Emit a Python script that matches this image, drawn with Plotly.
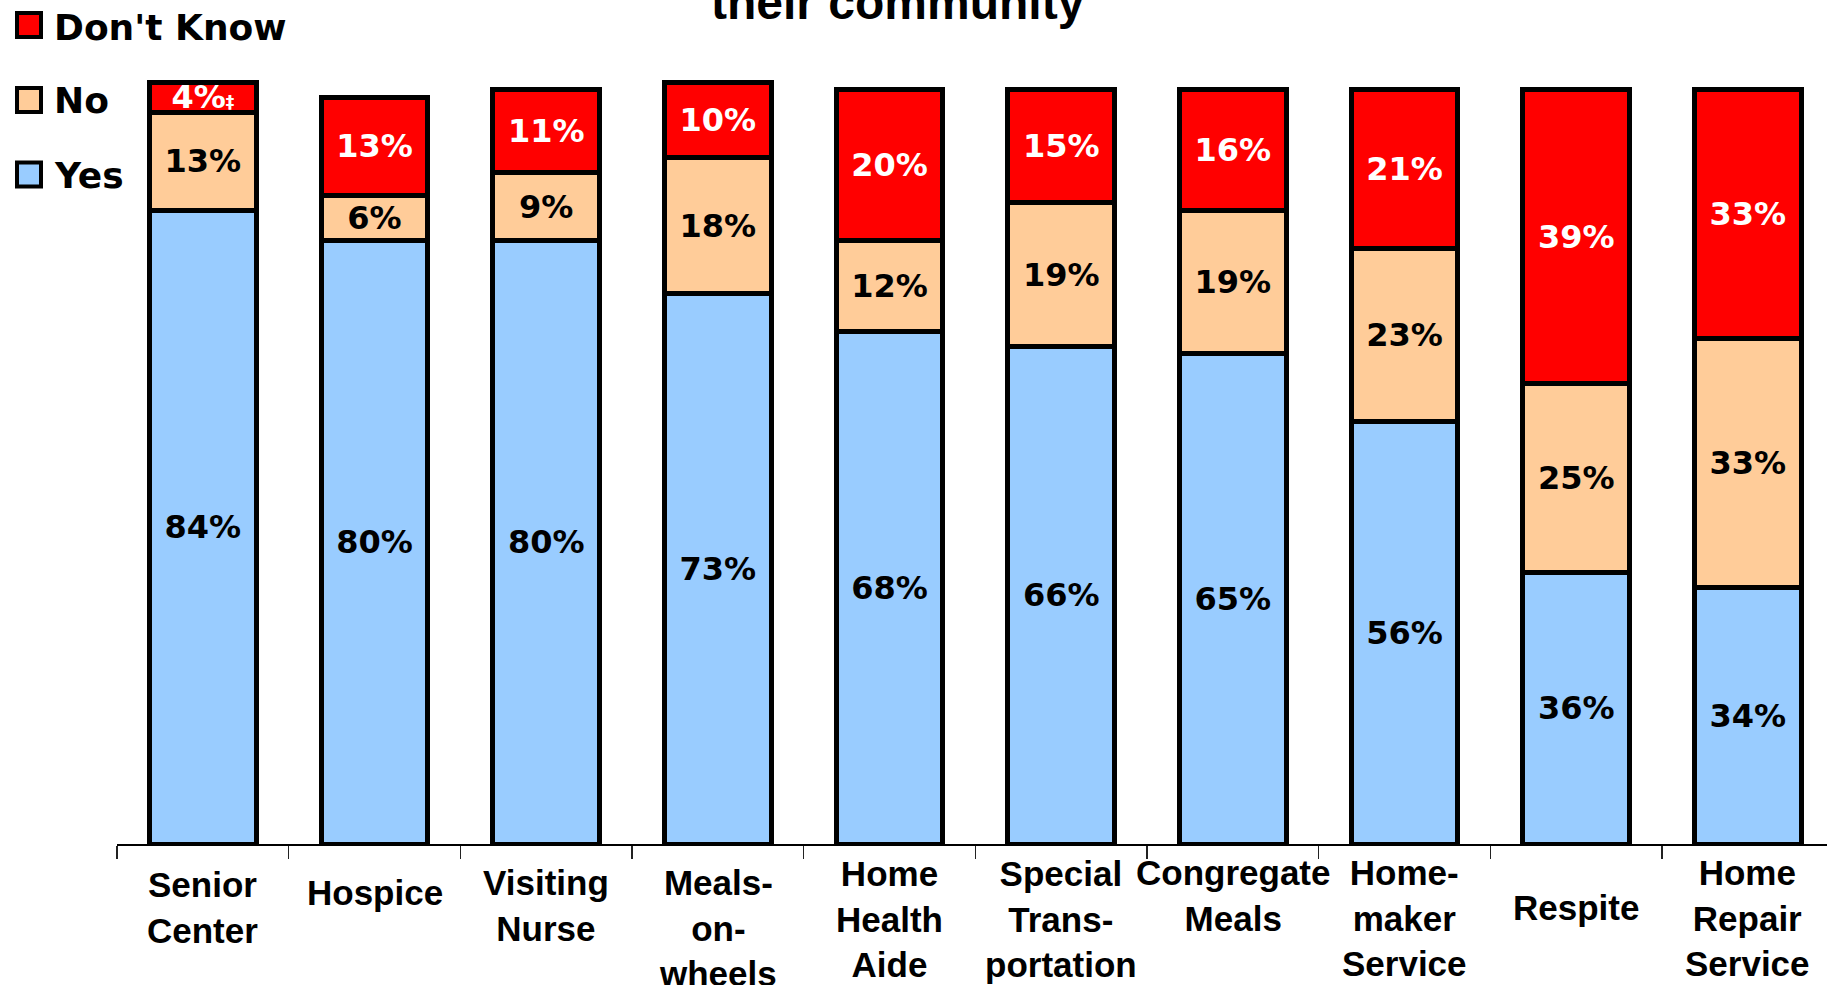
import plotly.graph_objects as go

# ---------------- data ----------------
categories = ["Senior<br>Center", "Hospice", "Visiting<br>Nurse", "Meals-<br>on-<br>wheels",
              "Home<br>Health<br>Aide", "Special<br>Trans-<br>portation", "Congregate<br>Meals",
              "Home-<br>maker<br>Service", "Respite", "Home<br>Repair<br>Service"]
yes_vals = [84, 80, 80, 73, 68, 66, 65, 56, 36, 34]
no_vals = [13, 6, 9, 18, 12, 19, 19, 23, 25, 33]
dk_vals = [4, 13, 11, 10, 20, 15, 16, 21, 39, 33]
dk_notes = ["‡", "", "", "", "", "", "", "", "", ""]
series_names = ["Yes", "No", "Don't Know"]
title_text = "their community"

# ---------------- style ----------------
W, H = 1827, 985
L, R, T, B = 117, 0, 0, 141
PW, PH = W - L - R, H - T - B
colors = {"Yes": "#99CCFF", "No": "#FFCC99", "Don't Know": "#FF0000"}
text_colors = {"Yes": "black", "No": "black", "Don't Know": "white"}
label_center_px = [908, 892.5, 905, 928, 919, 918.5, 895, 918, 907.5, 918]


def px_x(p):
    return (p - L) / PW


def px_y(p):
    return (H - B - p) / PH


def fmt(v, note=""):
    s = f"{v}%"
    if note:
        s += f"<span style='font-size:17px'>{note}</span>"
    return s


texts = {
    "Yes": [fmt(v) for v in yes_vals],
    "No": [fmt(v) for v in no_vals],
    "Don't Know": [fmt(v, n) for v, n in zip(dk_vals, dk_notes)],
}
values = {"Yes": yes_vals, "No": no_vals, "Don't Know": dk_vals}

fig = go.Figure()
for name in series_names:
    fig.add_trace(go.Bar(
        x=categories, y=values[name], name=name,
        marker=dict(color=colors[name], line=dict(color="black", width=5)),
        text=texts[name], textposition="inside", insidetextanchor="middle",
        textangle=0, constraintext="none",
        insidetextfont=dict(family="DejaVu Sans", size=32, color=text_colors[name], weight="bold"),
        width=0.62, showlegend=False, hoverinfo="skip",
    ))

annotations = []
# category labels
for cat, cy in zip(categories, label_center_px):
    annotations.append(dict(
        x=cat, xref="x", y=px_y(cy), yref="paper", text=cat, showarrow=False,
        xanchor="center", yanchor="middle", align="center",
        font=dict(family="Liberation Sans, Arial", size=35, color="black", weight="bold"),
    ))

# manual legend (top to bottom)
shapes = []
legend_rows = [("Don't Know", 25, 27.5), ("No", 100, 100), ("Yes", 174.5, 175.5)]
for name, sq_y, tx_y in legend_rows:
    shapes.append(dict(
        type="rect", xref="paper", yref="paper",
        x0=px_x(17), x1=px_x(41), y0=px_y(sq_y + 12), y1=px_y(sq_y - 12),
        fillcolor=colors[name], line=dict(color="black", width=4), layer="above",
    ))
    annotations.append(dict(
        x=px_x(52), xref="paper", y=px_y(tx_y), yref="paper", text=name, showarrow=False,
        xanchor="left", yanchor="middle",
        font=dict(family="DejaVu Sans", size=36, color="black", weight="bold"),
    ))

# title (only its last line is visible at the top edge)
annotations.append(dict(
    x=px_x(898), xref="paper", y=px_y(19 - 0.347 * 48), yref="paper", text=title_text,
    showarrow=False, xanchor="center", yanchor="middle",
    font=dict(family="Liberation Sans, Arial", size=48, color="black", weight="bold"),
))

fig.update_layout(
    width=W, height=H, barmode="stack",
    margin=dict(l=L, r=R, t=T, b=B, pad=0),
    paper_bgcolor="white", plot_bgcolor="white",
    xaxis=dict(type="category", range=[-0.5, 9.461], autorange=False,
               showline=True, linecolor="black", linewidth=2,
               ticks="outside", ticklen=13, tickwidth=1.5, tickcolor="#222",
               tickson="boundaries", showticklabels=False, showgrid=False, zeroline=False),
    yaxis=dict(range=[0, 111.9], autorange=False, visible=False),
    annotations=annotations, shapes=shapes,
)

fig.write_html("out.html", config={"displayModeBar": False, "staticPlot": True},
               post_script="document.body.style.margin='0';document.body.style.overflow='hidden';")
